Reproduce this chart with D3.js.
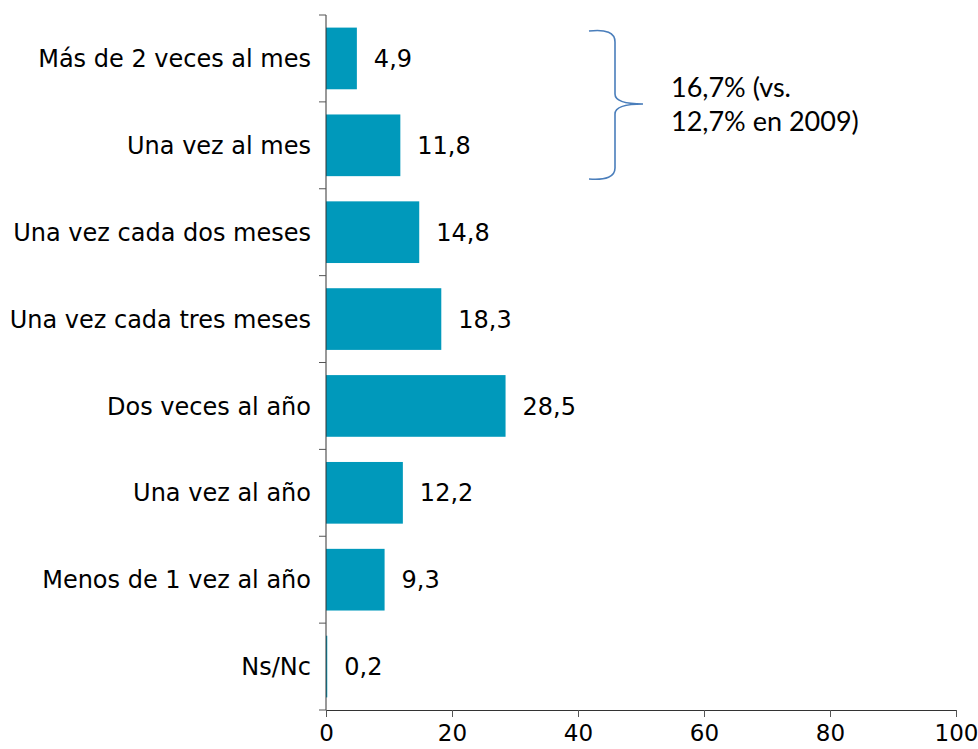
<!DOCTYPE html>
<html>
<head>
<meta charset="utf-8">
<script src="https://cdn.jsdelivr.net/npm/d3@7"></script>
<style>
    body { margin: 0; background: #fff; }
    svg text { font-family: "DejaVu Sans", Verdana, sans-serif; fill: #000; }
</style>
</head>
<body>
<div id="chart"></div>
<script>
const categories = ["Más de 2 veces al mes", "Una vez al mes", "Una vez cada dos meses",
    "Una vez cada tres meses", "Dos veces al año", "Una vez al año", "Menos de 1 vez al año", "Ns/Nc"];
const values = [4.9, 11.8, 14.8, 18.3, 28.5, 12.2, 9.3, 0.2];
const xTicks = [0, 20, 40, 60, 80, 100];
const noteLines = ["16,7% (vs.", "12,7% en 2009)"];

const width = 978, height = 749;
const margin = {top: 15, right: 22, bottom: 39, left: 326};

const svg = d3.select("#chart")
    .append("svg")
    .attr("width", width)
    .attr("height", height);

const x = d3.scaleLinear()
    .domain([0, 100])
    .range([margin.left, width - margin.right]);

const y = d3.scaleBand()
    .domain(categories)
    .range([margin.top, height - margin.bottom])
    .paddingInner(0.29)
    .paddingOuter(0.145);

const fmt = v => d3.format(".1f")(v).replace(".", ",");

// bars
svg.append("g")
    .selectAll("rect")
    .data(values)
    .enter()
    .append("rect")
    .attr("x", x(0))
    .attr("y", (d, i) => y(categories[i]))
    .attr("width", d => x(d) - x(0))
    .attr("height", y.bandwidth())
    .attr("fill", "#0099bb");

// value labels
svg.append("g")
    .selectAll("text")
    .data(values)
    .enter()
    .append("text")
    .attr("x", d => x(d) + 17)
    .attr("y", (d, i) => y(categories[i]) + y.bandwidth() / 2)
    .attr("dy", "0.36em")
    .style("font-size", "24px")
    .text(d => fmt(d));

// x axis
const xAxis = svg.append("g")
    .attr("transform", `translate(0,${height - margin.bottom})`)
    .call(d3.axisBottom(x).tickValues(xTicks).tickSize(7).tickSizeOuter(0).tickPadding(8));
xAxis.select(".domain").attr("stroke", "#333");
xAxis.selectAll(".tick line").attr("stroke", "#555");
xAxis.selectAll("text")
    .style("font-size", "23px")
    .attr("fill", "#000");

// y axis: ticks between categories
const step = y.step();
const boundaries = d3.range(categories.length + 1).map(i => margin.top + i * step);
svg.append("line")
    .attr("x1", x(0)).attr("x2", x(0))
    .attr("y1", margin.top).attr("y2", height - margin.bottom)
    .attr("stroke", "#333");
svg.append("g")
    .selectAll("line")
    .data(boundaries)
    .enter()
    .append("line")
    .attr("x1", x(0) - 7).attr("x2", x(0))
    .attr("y1", d => d).attr("y2", d => d)
    .attr("stroke", "#555");

svg.append("g")
    .selectAll("text")
    .data(categories)
    .enter()
    .append("text")
    .attr("x", x(0) - 15)
    .attr("y", d => y(d) + y.bandwidth() / 2)
    .attr("dy", "0.36em")
    .attr("text-anchor", "end")
    .style("font-size", "24px")
    .text(d => d);

// brace around first two bars
svg.append("path")
    .attr("d", "M589,31 Q615,28 615,42 L615,94 Q615,104 643,104 Q615,104 615,114 L615,168 Q615,181 589,179")
    .attr("fill", "none")
    .attr("stroke", "#4a7ebb")
    .attr("stroke-width", 1.6);

svg.append("g")
    .selectAll("text")
    .data(noteLines)
    .enter()
    .append("text")
    .attr("x", 671)
    .attr("y", (d, i) => 97 + i * 33.5)
    .style("font-family", "Lato, 'Open Sans', sans-serif")
    .style("font-size", "27px")
    .text(d => d);
</script>
</body>
</html>
